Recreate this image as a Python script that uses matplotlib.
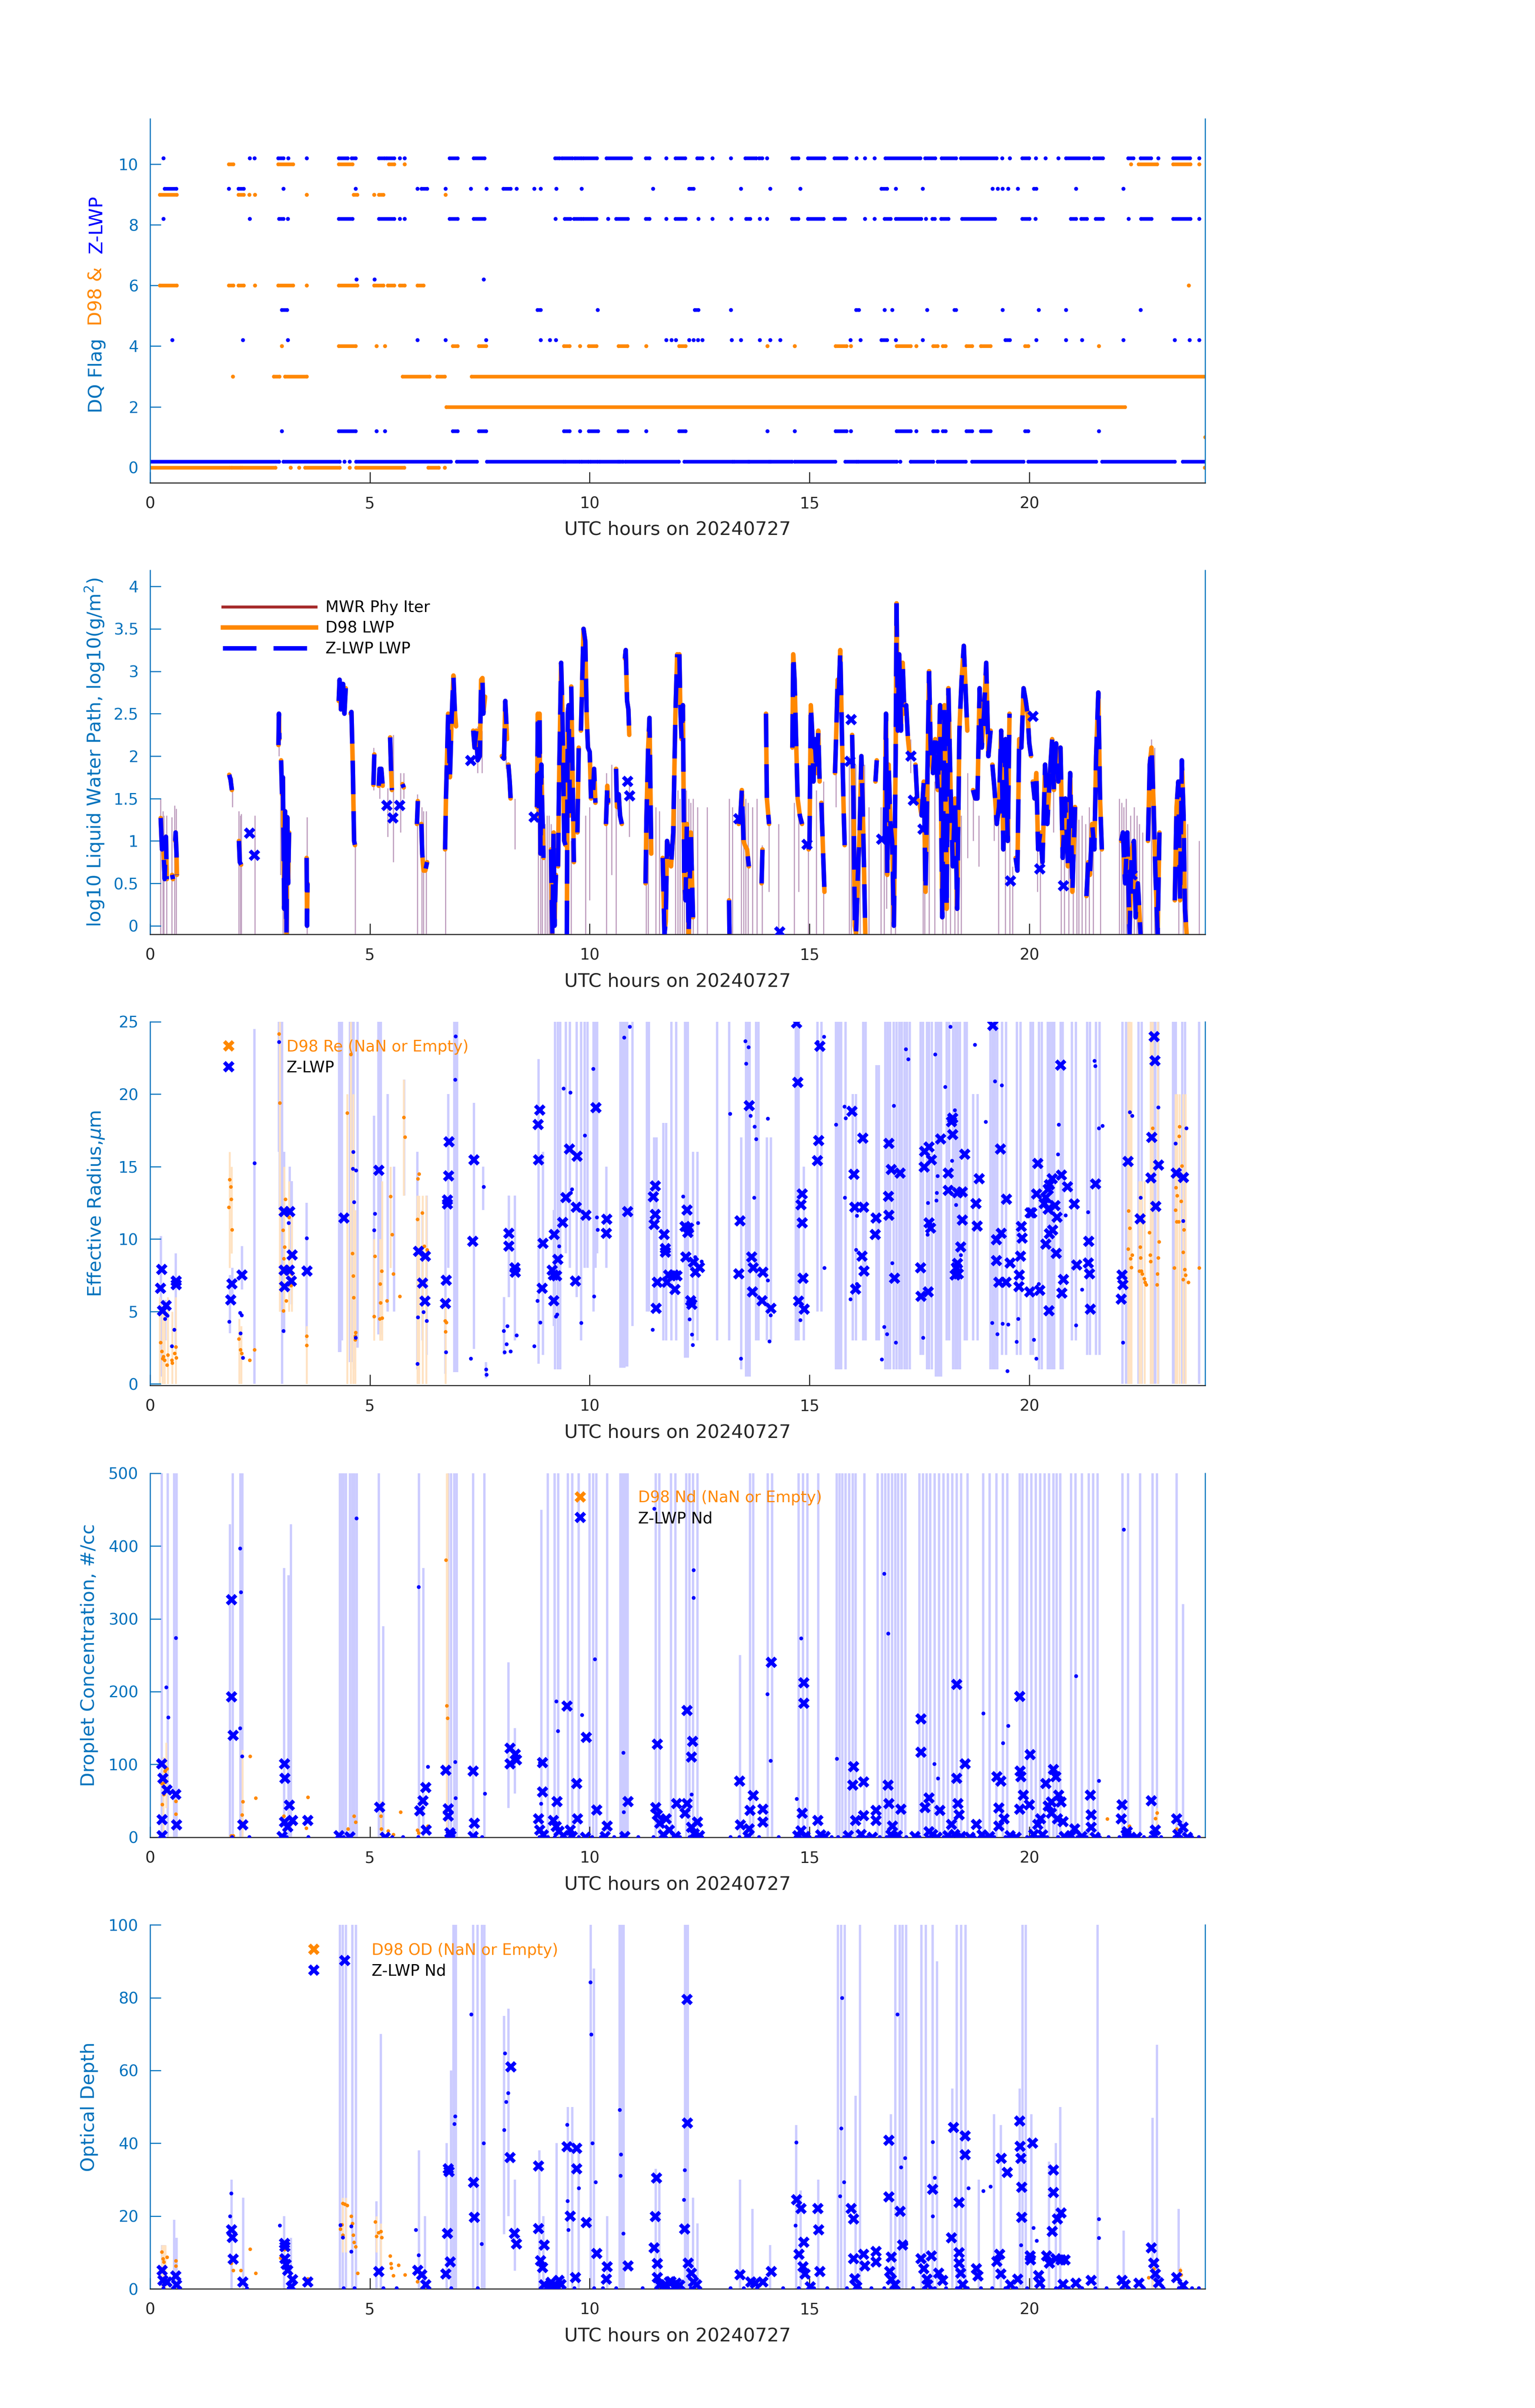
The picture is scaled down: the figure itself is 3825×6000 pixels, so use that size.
import matplotlib
matplotlib.use('Agg')
import matplotlib.pyplot as plt
from matplotlib.lines import Line2D
from matplotlib.ticker import FormatStrFormatter
import numpy as np

plt.rcParams['font.family'] = ['DejaVu Sans']
plt.rcParams['mathtext.fontset'] = 'dejavusans'

# ---------------------------------------------------------------- colours
BLUE = '#0000FF'
ORANGE = '#FF8800'
AXBLUE = '#0072BD'
DARK = '#262626'
MAUVE = '#C0A0C0'
MWRRED = '#A52A2A'
BAND_B = '#CCCCFF'
BAND_O = '#FFE2C2'

XLABEL = 'UTC hours on 20240727'
XTICKS = [0, 5, 10, 15, 20]

# ======================================================= PANEL 1 : DQ flags
# intervals (start_hour, end_hour) where each flag value is set
zlwp_flag10 = [(0.30, 0.30), (2.26, 2.26), (2.37, 2.37), (2.91, 3.03), (3.14, 3.14), (3.56, 3.56),
               (4.29, 4.49), (4.58, 4.67), (5.20, 5.33), (5.38, 5.55), (5.68, 5.68), (5.79, 5.79),
               (6.81, 6.99), (7.36, 7.60), (9.21, 9.31), (9.37, 9.60), (9.66, 9.80), (9.85, 10.16),
               (10.38, 10.94), (11.27, 11.36), (11.74, 11.74), (11.95, 12.17), (12.44, 12.56),
               (12.79, 12.79), (13.21, 13.21), (13.54, 13.78), (13.85, 13.92), (14.03, 14.03),
               (14.61, 14.74), (14.96, 15.34), (15.56, 15.84), (16.07, 16.07), (16.26, 16.26),
               (16.48, 16.48), (16.72, 17.52), (17.63, 17.86), (18.00, 18.33), (18.44, 19.25),
               (19.38, 19.38), (19.55, 19.55), (19.84, 19.99), (20.15, 20.15), (20.37, 20.37),
               (20.66, 20.66), (20.83, 21.35), (21.47, 21.67), (22.25, 22.37), (22.53, 22.77),
               (22.93, 22.93), (23.27, 23.65), (23.86, 23.86)]
d98_flag10 = [(1.79, 1.89), (2.91, 3.25), (4.29, 4.60), (5.43, 5.55), (5.79, 5.79), (22.31, 22.31),
              (22.48, 22.90), (23.27, 23.66), (23.86, 23.86)]
zlwp_flag9 = [(0.33, 0.59), (1.79, 1.79), (2.01, 2.13), (3.03, 3.03), (4.67, 4.67), (6.08, 6.08),
              (6.17, 6.30), (6.72, 6.72), (7.29, 7.29), (7.65, 7.65), (8.03, 8.20), (8.33, 8.33),
              (8.74, 8.74), (8.88, 8.88), (9.24, 9.24), (9.81, 9.81), (11.44, 11.44), (12.26, 12.36),
              (13.44, 13.44), (14.10, 14.10), (14.79, 14.79), (16.63, 16.76), (16.96, 16.96),
              (17.57, 17.57), (19.16, 19.16), (19.28, 19.28), (19.39, 19.39), (19.52, 19.52),
              (19.74, 19.74), (20.10, 20.16), (21.06, 21.06), (22.14, 22.14)]
d98_flag9 = [(0.22, 0.60), (2.01, 2.13), (2.25, 2.25), (2.38, 2.38), (3.56, 3.56), (4.63, 4.71),
             (5.09, 5.09), (5.20, 5.30), (6.72, 6.72)]
zlwp_flag8 = [(0.30, 0.30), (2.26, 2.26), (2.93, 3.03), (3.13, 3.13), (4.29, 4.60), (5.20, 5.55),
              (5.68, 5.68), (5.79, 5.79), (6.81, 6.99), (7.36, 7.60), (9.22, 9.22), (9.43, 9.56),
              (9.64, 9.80), (9.85, 10.15), (10.42, 10.42), (10.60, 10.86), (11.27, 11.36),
              (11.74, 11.74), (11.95, 12.18), (12.47, 12.47), (12.79, 12.79), (13.22, 13.22),
              (13.56, 13.65), (13.87, 13.87), (14.03, 14.03), (14.60, 14.74), (14.96, 15.32),
              (15.56, 15.80), (16.26, 16.26), (16.48, 16.48), (16.71, 16.84), (16.96, 17.54),
              (17.65, 17.65), (17.79, 17.85), (17.99, 18.16), (18.47, 19.22), (19.84, 20.00),
              (20.14, 20.14), (20.94, 21.06), (21.18, 21.31), (21.51, 21.67), (22.26, 22.26),
              (22.54, 22.78), (23.27, 23.66), (23.86, 23.86)]
zlwp_flag6 = [(4.69, 4.69), (5.10, 5.10), (7.59, 7.59)]
d98_flag6 = [(0.22, 0.60), (1.79, 1.89), (2.01, 2.13), (2.38, 2.38), (2.91, 3.25), (3.56, 3.56),
             (4.29, 4.71), (5.09, 5.30), (5.40, 5.55), (5.68, 5.79), (6.08, 6.22), (23.63, 23.63)]
zlwp_flag5 = [(2.99, 3.11), (8.81, 8.88), (10.18, 10.18), (12.39, 12.47), (13.21, 13.21),
              (16.06, 16.12), (16.71, 16.71), (16.88, 16.88), (17.67, 17.67), (18.29, 18.33),
              (19.39, 19.39), (20.21, 20.21), (20.83, 20.83), (22.53, 22.53)]
zlwp_flag4 = [(0.50, 0.50), (2.11, 2.11), (3.13, 3.13), (6.08, 6.08), (6.72, 6.72), (7.64, 7.64),
              (8.88, 8.88), (9.09, 9.09), (9.23, 9.23), (11.74, 11.74), (11.86, 11.86),
              (11.96, 11.96), (12.26, 12.26), (12.36, 12.36), (12.46, 12.46), (12.56, 12.56),
              (13.23, 13.23), (13.44, 13.44), (13.87, 13.87), (14.10, 14.10), (14.33, 14.33),
              (15.93, 15.93), (16.16, 16.16), (16.63, 16.76), (16.96, 16.96), (17.57, 17.57),
              (19.45, 19.55), (20.16, 20.16), (20.83, 20.83), (21.20, 21.20), (22.14, 22.14),
              (23.31, 23.31), (23.64, 23.64), (23.86, 23.86)]
d98_flag4 = [(2.99, 2.99), (4.29, 4.67), (5.15, 5.15), (5.34, 5.34), (6.88, 6.99), (7.48, 7.64),
             (9.41, 9.54), (9.78, 9.78), (9.98, 10.15), (10.65, 10.85), (11.28, 11.28),
             (12.03, 12.18), (14.04, 14.04), (14.66, 14.66), (15.59, 15.84), (15.94, 15.94),
             (16.98, 17.30), (17.43, 17.43), (17.81, 17.91), (18.03, 18.09), (18.57, 18.70),
             (18.90, 19.12), (19.90, 19.97), (21.58, 21.58)]
d98_flag3 = [(1.88, 1.88), (2.81, 2.94), (3.07, 3.56), (5.74, 6.35), (6.53, 6.70), (7.31, 24.0)]
d98_flag2 = [(6.74, 22.17)]
zlwp_flag1 = [(2.99, 2.99), (4.29, 4.67), (5.15, 5.15), (5.34, 5.34), (6.88, 6.99), (7.48, 7.64),
              (9.41, 9.54), (9.78, 9.78), (9.98, 10.19), (10.65, 10.85), (11.28, 11.28),
              (12.03, 12.18), (14.04, 14.04), (14.66, 14.66), (15.59, 15.84), (15.94, 15.94),
              (16.98, 17.30), (17.43, 17.43), (17.81, 17.91), (18.03, 18.09), (18.57, 18.70),
              (18.90, 19.12), (19.90, 19.97), (21.58, 21.58)]
d98_flag1 = [(24.0, 24.0)]
zlwp_flag0 = [(0.0, 2.93), (3.03, 4.31), (4.42, 4.42), (4.54, 4.54), (4.68, 6.84), (6.97, 7.43),
              (7.66, 9.40), (9.44, 9.77), (9.81, 9.97), (10.01, 10.18), (10.22, 10.64),
              (10.68, 10.75), (10.81, 12.02), (12.15, 13.25), (13.28, 13.60), (13.63, 14.08),
              (14.11, 14.60), (14.66, 15.58), (15.81, 16.07), (16.10, 16.98), (17.06, 17.06),
              (17.30, 17.81), (17.91, 18.55), (18.70, 19.86), (19.97, 21.52), (21.65, 23.31),
              (23.49, 24.0)]
d98_flag0 = [(0.0, 1.81), (1.85, 2.05), (2.09, 2.85), (3.19, 3.19), (3.39, 3.39), (3.52, 4.31),
             (4.54, 4.54), (4.68, 5.78), (6.33, 6.56), (6.70, 6.70), (23.99, 23.99)]

# ======================================================= PANEL 2 : log10 LWP
# continuous retrieval pieces: (hours, log10 LWP); D98 and Z-LWP coincide
lwp_seg_t = [
    [0.24, 0.27, 0.30, 0.33, 0.36, 0.38], [0.50, 0.52], [0.57, 0.58, 0.60, 0.61],
    [1.80, 1.83, 1.86], [2.02, 2.04, 2.07], [2.92, 2.93, 2.94],
    [2.98, 3.00, 3.02, 3.05, 3.07, 3.10, 3.12, 3.14, 3.16], [3.56, 3.57, 3.58],
    [4.29, 4.31, 4.34, 4.36, 4.39, 4.42, 4.45], [4.56, 4.58, 4.61, 4.64, 4.66],
    [5.08, 5.10], [5.20, 5.22, 5.26, 5.29], [5.46, 5.48, 5.50], [5.74, 5.77], [6.07, 6.09],
    [6.17, 6.19, 6.22, 6.26, 6.30], [6.71, 6.73, 6.78, 6.82, 6.86, 6.90, 6.93, 6.96],
    [7.35, 7.38, 7.42, 7.45, 7.50, 7.53, 7.56, 7.58, 7.62], [8.00, 8.05, 8.08, 8.12],
    [8.15, 8.18, 8.20], [8.80, 8.82, 8.84, 8.86, 8.88, 8.90, 8.92, 8.95],
    [9.12, 9.15, 9.18, 9.20, 9.23], [9.28, 9.30, 9.33, 9.35, 9.38, 9.42, 9.45],
    [9.48, 9.50, 9.52, 9.55], [9.58, 9.61, 9.64], [9.72, 9.75],
    [9.80, 9.83, 9.86, 9.90, 9.93, 9.96, 10.00, 10.03], [10.08, 10.10, 10.13],
    [10.37, 10.40, 10.42], [10.60, 10.62, 10.66, 10.69, 10.73],
    [10.80, 10.82, 10.85, 10.88, 10.90], [11.27, 11.29, 11.33, 11.36, 11.40],
    [11.66, 11.70, 11.73, 11.76, 11.80, 11.85, 11.90, 11.95, 11.99],
    [12.04, 12.06, 12.09, 12.12, 12.15, 12.18, 12.21, 12.25, 12.30, 12.35],
    [13.17, 13.18], [13.39, 13.43, 13.46, 13.50, 13.53, 13.58, 13.62], [13.91, 13.93],
    [14.01, 14.03, 14.08], [14.61, 14.63, 14.66, 14.70, 14.73, 14.78, 14.83],
    [14.98, 15.00, 15.03, 15.06, 15.09, 15.12, 15.16, 15.20, 15.23], [15.27, 15.34],
    [15.58, 15.61, 15.64, 15.67, 15.70, 15.74, 15.78, 15.80],
    [15.97, 16.00, 16.03, 16.06, 16.10, 16.14, 16.18, 16.22, 16.27], [16.50, 16.53],
    [16.71, 16.74, 16.77, 16.80, 16.84, 16.88, 16.92, 16.96, 16.98],
    [16.98, 17.01, 17.04, 17.08, 17.12, 17.16, 17.20, 17.24, 17.28],
    [17.41, 17.45, 17.50, 17.55, 17.60, 17.64, 17.68, 17.72],
    [17.72, 17.76, 17.81, 17.86, 17.92, 17.97, 18.02, 18.07, 18.12, 18.16],
    [18.16, 18.21, 18.26, 18.31, 18.36, 18.41, 18.46, 18.51, 18.55, 18.59],
    [18.72, 18.77, 18.82, 18.87, 18.92, 18.97, 19.02, 19.07, 19.12],
    [19.16, 19.21, 19.26, 19.31, 19.36, 19.41, 19.46, 19.51, 19.55],
    [19.69, 19.73, 19.77, 19.82, 19.87, 19.92, 19.96, 20.00, 20.04],
    [20.08, 20.12, 20.16, 20.20, 20.25, 20.30, 20.36, 20.41, 20.47],
    [20.47, 20.52, 20.56, 20.61, 20.66, 20.71, 20.76, 20.82, 20.88, 20.93, 20.98, 21.04],
    [21.30, 21.34, 21.38, 21.43, 21.48, 21.52, 21.57, 21.61, 21.65],
    [22.09, 22.13, 22.18, 22.23, 22.28, 22.33, 22.38, 22.42, 22.47, 22.53],
    [22.70, 22.74, 22.78, 22.83, 22.87, 22.92, 22.96],
    [23.31, 23.35, 23.39, 23.43, 23.47, 23.51, 23.54, 23.58],
]
lwp_seg_v = [
    [1.27, 0.90, 0.95, 0.55, 1.05, 0.55], [0.60, 0.55], [1.00, 1.10, 0.85, 0.60],
    [1.78, 1.72, 1.60], [1.00, 0.75, 0.72], [2.13, 2.50, 2.20],
    [1.95, 1.55, 1.75, 0.20, 1.35, -0.10, 1.28, 0.50, 1.10], [0.80, 0.00, 0.50],
    [2.65, 2.90, 2.55, 2.85, 2.85, 2.50, 2.80], [2.50, 2.52, 1.90, 1.00, 0.95],
    [1.66, 2.02], [1.65, 1.85, 1.85, 1.65], [2.22, 1.85, 1.60], [1.67, 1.63], [1.20, 1.47],
    [1.20, 0.85, 0.65, 0.65, 0.75], [0.90, 1.50, 2.50, 1.75, 2.45, 2.95, 2.55, 2.35],
    [2.30, 2.10, 2.30, 1.95, 2.00, 2.90, 2.92, 2.50, 2.70], [2.00, 1.97, 2.65, 2.20],
    [1.90, 1.70, 1.50], [1.40, 2.50, 1.30, 2.50, 0.85, 1.90, 1.40, 0.80],
    [0.90, -0.10, 1.10, 0.00, 0.60], [0.70, 1.60, 2.50, 3.10, 2.50, 1.00, 0.95],
    [-0.10, 2.50, 2.60, 1.30], [2.82, 1.80, 0.75], [1.10, 2.10],
    [2.30, 2.90, 3.50, 3.35, 2.50, 2.10, 2.05, 1.50], [1.60, 1.85, 1.45],
    [1.20, 1.65, 1.45], [1.85, 1.40, 1.55, 1.30, 1.20],
    [3.15, 3.25, 2.65, 2.55, 2.25], [0.50, 1.25, 2.10, 2.45, 0.85],
    [0.80, -0.10, 0.05, 1.00, 0.90, 0.70, 1.10, 2.50, 3.20],
    [3.20, 2.60, 2.20, 2.60, 0.60, 0.30, 1.20, -0.10, 1.10, 0.10],
    [0.30, -0.10], [1.20, 1.30, 1.60, 1.00, 0.95, 0.90, 0.70], [0.50, 0.90],
    [2.50, 1.50, 1.20], [2.10, 3.20, 2.90, 2.10, 1.50, 1.30, 1.20],
    [0.90, 1.00, 2.60, 2.30, 1.70, 2.20, 1.80, 2.30, 1.70], [1.45, 0.40],
    [1.80, 2.30, 2.90, 2.80, 3.25, 2.20, 1.30, 0.95],
    [2.25, 1.50, 0.00, -0.10, 0.60, 1.10, 2.00, 1.20, -0.10], [1.70, 1.95],
    [1.00, 2.50, 0.60, 1.90, 1.20, 1.00, 0.00, 2.00, 3.80],
    [3.80, 2.30, 3.20, 2.30, 3.10, 2.50, 2.60, 2.20, 2.00],
    [1.90, 1.50, 1.45, 1.30, 1.70, 0.40, 1.70, 3.00],
    [3.00, 2.00, 1.80, 2.20, 1.60, 2.60, 0.10, 2.60, 0.20, 2.80],
    [2.80, 1.60, 0.70, 1.50, 0.20, 2.30, 2.90, 3.30, 2.80, 2.30],
    [1.60, 1.50, 1.50, 2.80, 2.10, 2.50, 3.10, 2.00, 2.30],
    [1.90, 1.60, 1.20, 1.40, 2.30, 0.90, 2.20, 1.00, 2.50],
    [0.80, 0.65, 2.20, 2.10, 2.80, 2.65, 2.50, 2.15, 2.00],
    [1.70, 1.50, 1.80, 0.90, 1.10, 0.75, 1.90, 1.20, 1.80],
    [1.80, 2.20, 1.60, 2.15, 1.70, 2.10, 0.80, 1.50, 0.70, 1.80, 0.40, 1.40],
    [0.35, 0.75, 0.60, 1.20, 0.90, 2.00, 2.75, 1.50, 0.90],
    [1.00, 1.10, 0.50, 1.10, -0.10, 0.90, 1.00, 0.10, 0.50, -0.10],
    [1.00, 1.90, 2.10, 1.40, 0.60, -0.10, 1.10],
    [0.30, 1.40, 1.70, 0.30, 1.95, 1.30, 0.20, -0.10],
]
# isolated Z-LWP LWP samples (hour, log10 LWP)
lwp_x = [(2.26, 1.09), (2.37, 0.83), (5.39, 1.42), (5.52, 1.27), (5.68, 1.42), (7.29, 1.95),
         (8.74, 1.28), (10.86, 1.70), (10.91, 1.53), (13.39, 1.26), (14.32, -0.07), (14.94, 0.96),
         (15.95, 2.43), (15.92, 1.94), (16.64, 1.02), (17.31, 2.00), (17.36, 1.48), (17.58, 1.14),
         (19.57, 0.53), (20.08, 2.47), (20.24, 0.67), (20.78, 0.47), (22.34, 0.60)]
# MWR physical-iterative LWP excursions (hour, low, high)
mwr_lines = [(0.24, -0.2, 1.5), (0.29, -0.2, 1.35), (0.31, -0.2, 1.3), (0.37, -0.2, 1.3),
             (0.49, -0.2, 1.28), (0.56, -0.2, 1.42), (0.59, -0.2, 1.38), (1.87, 1.4, 1.75),
             (2.02, -0.2, 1.35), (2.05, -0.2, 1.3), (2.07, -0.2, 1.32), (2.38, -0.2, 1.3),
             (2.93, 2.0, 2.5), (2.97, 0.6, 1.95), (3.02, -0.2, 1.6), (3.10, -0.2, 1.3),
             (3.15, -0.2, 1.2), (3.57, -0.2, 1.28), (4.66, -0.2, 0.95), (5.08, 1.6, 2.1),
             (5.22, 1.5, 1.75), (5.40, 1.05, 1.62), (5.53, 0.75, 2.25), (5.70, 1.1, 1.8),
             (5.77, 1.5, 1.8), (6.08, -0.2, 1.55), (6.18, -0.2, 1.4), (6.22, -0.2, 1.35),
             (6.28, -0.2, 1.35), (6.72, -0.2, 1.1), (7.45, 1.8, 2.35), (7.55, 1.8, 2.3),
             (8.05, 1.95, 2.1), (8.10, 1.85, 2.0), (8.30, 0.9, 1.5), (8.83, -0.2, 2.4),
             (8.88, -0.2, 1.4), (8.92, -0.2, 1.4), (8.98, -0.2, 1.2), (9.03, -0.2, 1.3),
             (9.07, -0.2, 1.3), (9.12, -0.2, 1.2), (9.17, -0.2, 1.1), (9.45, -0.2, 0.95),
             (9.58, -0.2, 1.0), (9.90, -0.2, 1.3), (10.00, 0.3, 1.4), (10.38, -0.2, 1.8),
             (10.50, 0.6, 1.9), (10.60, -0.2, 1.5), (10.90, 1.05, 1.7), (11.28, -0.2, 1.7),
             (11.33, -0.2, 1.5), (11.50, -0.2, 1.4), (11.58, -0.2, 1.35), (11.95, -0.2, 1.5),
             (12.00, -0.2, 1.6), (12.05, -0.2, 1.5), (12.10, -0.2, 1.55), (12.15, -0.2, 1.5),
             (12.20, -0.2, 1.6), (12.25, -0.2, 1.5), (12.30, -0.2, 1.45), (12.35, -0.2, 1.5),
             (12.45, -0.2, 1.4), (12.67, -0.2, 1.4), (13.17, -0.2, 1.5), (13.25, -0.2, 1.4),
             (13.45, -0.2, 1.45), (13.50, -0.2, 1.55), (13.55, -0.2, 1.5), (13.60, -0.2, 1.45),
             (13.70, -0.2, 1.4), (13.80, -0.2, 1.5), (13.92, -0.2, 0.95), (14.08, 0.4, 1.2),
             (14.30, -0.2, 1.2), (14.65, -0.2, 1.45), (14.75, 0.4, 1.4), (14.97, -0.2, 1.9),
             (15.15, -0.2, 1.6), (15.32, -0.2, 1.7), (15.60, 1.4, 2.2), (15.90, -0.2, 2.0),
             (15.95, -0.2, 2.05), (16.05, -0.2, 1.9), (16.15, -0.2, 2.0), (16.25, -0.2, 1.9),
             (16.35, -0.2, 1.4), (16.62, -0.2, 1.4), (16.70, -0.2, 1.5), (16.75, 0.2, 1.5),
             (16.85, -0.2, 1.3), (16.95, -0.2, 1.3), (17.30, 1.8, 2.2), (17.58, -0.2, 1.5),
             (17.62, -0.2, 1.4), (17.72, -0.2, 1.8), (17.85, -0.2, 1.7), (18.03, -0.2, 1.9),
             (18.10, -0.2, 1.5), (18.20, -0.2, 1.7), (18.30, -0.2, 1.5), (18.38, -0.2, 1.9),
             (18.45, -0.2, 1.3), (18.60, 0.8, 1.8), (18.72, 1.0, 1.5), (18.85, 0.7, 1.3),
             (19.20, 1.0, 1.8), (19.30, -0.2, 1.5), (19.45, -0.2, 1.1), (19.55, -0.2, 1.4),
             (19.62, -0.2, 0.7), (19.75, 1.2, 1.45), (20.18, 0.4, 1.6), (20.25, -0.2, 1.0),
             (20.42, 1.2, 1.6), (20.55, 1.1, 1.9), (20.72, -0.2, 1.3), (20.80, -0.2, 1.5),
             (20.90, -0.2, 1.3), (21.00, -0.2, 1.2), (21.08, -0.2, 1.4), (21.12, -0.2, 1.25),
             (21.20, -0.2, 1.3), (21.28, -0.2, 1.2), (21.36, -0.2, 1.4), (21.45, -0.2, 1.3),
             (21.62, -0.2, 1.2), (22.05, -0.2, 1.5), (22.10, -0.2, 1.45), (22.15, -0.2, 1.4),
             (22.20, -0.2, 1.5), (22.30, -0.2, 1.3), (22.38, -0.2, 1.4), (22.45, -0.2, 1.3),
             (22.50, -0.2, 1.2), (22.58, -0.2, 1.1), (22.78, -0.2, 2.2), (22.85, -0.2, 2.1),
             (22.95, -0.2, 1.1), (23.40, -0.2, 1.5), (23.50, -0.2, 1.5), (23.60, -0.2, 1.2),
             (23.86, -0.2, 1.0)]

# ======================================================= PANEL 3 : Re (um)
re_x = [(0.26, 7.9), (0.24, 6.6), (0.28, 5.05), (0.36, 5.4), (0.59, 7.1), (0.59, 6.85), (1.83, 5.8),
        (1.86, 6.9), (2.09, 7.5), (3.05, 11.9), (3.18, 11.9), (3.05, 7.85), (3.17, 7.85), (3.06, 6.7),
        (3.21, 7.1), (3.23, 8.9), (3.57, 7.8), (4.41, 11.45), (5.20, 14.75), (6.11, 9.15), (6.26, 8.8),
        (6.20, 6.95), (6.25, 5.7), (6.72, 5.55), (6.74, 7.15), (6.80, 16.7), (6.79, 14.35),
        (6.76, 12.7), (6.76, 12.4), (7.37, 15.45), (7.34, 9.85), (8.16, 10.4), (8.16, 9.5),
        (8.30, 8.0), (8.31, 7.7), (8.83, 17.9), (8.86, 18.9), (8.84, 15.45), (8.94, 9.7),
        (8.92, 6.6), (9.19, 10.3), (9.27, 8.6), (9.15, 7.85), (9.17, 7.5), (9.25, 7.45),
        (9.18, 5.75), (9.38, 11.15), (9.46, 12.85), (9.54, 16.2), (9.71, 15.7), (9.69, 12.2),
        (9.68, 7.1), (9.91, 11.65), (10.14, 19.05), (10.39, 11.35), (10.38, 10.4), (10.86, 11.9),
        (11.49, 13.65), (11.45, 12.9), (11.49, 11.7), (11.47, 11.0), (11.69, 10.3), (11.72, 9.35),
        (11.72, 9.1), (11.54, 7.0), (11.51, 5.2), (11.76, 7.0), (11.79, 7.5), (11.91, 7.5),
        (11.99, 7.45), (11.94, 6.5), (12.21, 12.0), (12.17, 10.85), (12.25, 10.75), (12.23, 10.45),
        (12.19, 8.75), (12.36, 8.4), (12.41, 7.7), (12.50, 8.05), (12.30, 5.75), (12.32, 5.5),
        (13.42, 11.25), (13.39, 7.6), (13.63, 19.2), (13.68, 8.75), (13.72, 8.0), (13.70, 6.35),
        (13.94, 7.7), (13.92, 5.75), (14.12, 5.2), (14.71, 24.9), (14.73, 20.8), (14.83, 13.1),
        (14.81, 12.35), (14.83, 11.1), (14.85, 7.3), (14.75, 5.7), (14.88, 5.15), (15.24, 23.3),
        (15.21, 16.8), (15.18, 15.4), (15.97, 18.8), (16.01, 14.45), (16.03, 12.2), (16.23, 12.2),
        (16.21, 16.95), (16.19, 8.8), (16.24, 7.8), (16.05, 6.55), (16.51, 11.45), (16.50, 10.3),
        (16.81, 16.6), (16.86, 14.8), (17.06, 14.55), (16.80, 12.95), (16.81, 11.65), (16.93, 7.3),
        (17.53, 8.0), (17.54, 6.05), (17.70, 6.35), (17.62, 16.05), (17.72, 16.35), (17.77, 15.45),
        (17.61, 14.95), (17.72, 11.1), (17.76, 10.75), (17.98, 16.9), (18.16, 14.55),
        (18.16, 13.35), (18.23, 18.1), (18.26, 18.35), (18.26, 17.2), (18.37, 13.2), (18.53, 15.85),
        (18.48, 13.25), (18.48, 11.3), (18.44, 9.45), (18.37, 8.3), (18.34, 8.0), (18.39, 7.6),
        (18.31, 7.5), (18.79, 12.45), (18.81, 10.9), (18.86, 14.15), (19.17, 24.75), (19.34, 16.2),
        (19.48, 12.75), (19.25, 9.95), (19.36, 10.4), (19.25, 8.5), (19.56, 8.35), (19.31, 7.0),
        (19.47, 7.0), (19.82, 10.85), (19.84, 10.05), (19.80, 8.8), (19.77, 7.5), (19.76, 6.7),
        (20.02, 11.8), (20.06, 11.8), (20.01, 6.35), (20.24, 6.45), (20.19, 15.2), (20.17, 13.1),
        (20.38, 12.85), (20.43, 13.45), (20.46, 13.75), (20.52, 14.15), (20.34, 12.45),
        (20.43, 12.05), (20.59, 12.3), (20.63, 11.5), (20.53, 10.6), (20.46, 10.35), (20.38, 9.65),
        (20.61, 9.0), (20.45, 5.05), (20.71, 22.0), (20.73, 14.4), (20.87, 13.6), (20.78, 7.2),
        (20.74, 6.25), (21.02, 12.4), (21.08, 8.2), (21.51, 13.8), (21.35, 9.85), (21.34, 8.35),
        (21.37, 7.6), (21.39, 5.15), (22.25, 15.35), (22.11, 7.5), (22.13, 6.85), (22.09, 5.85),
        (22.52, 11.4), (22.84, 23.95), (22.86, 22.3), (22.79, 17.0), (22.77, 14.2), (22.94, 15.1),
        (22.88, 12.25), (23.34, 14.55), (23.51, 14.25)]
re_dot = [(2.93, 23.6), (2.37, 15.25), (3.56, 10.05), (3.15, 11.1), (3.03, 3.65), (1.80, 4.3),
          (2.04, 4.9), (2.08, 4.75), (2.05, 3.5), (2.11, 1.8), (0.34, 4.5), (0.39, 4.7), (0.49, 2.6),
          (0.55, 3.75), (4.62, 16.0), (4.61, 14.85), (4.68, 14.75), (4.64, 12.55), (4.67, 3.2),
          (5.11, 11.75), (5.09, 10.6), (6.08, 1.4), (6.09, 4.6), (6.22, 4.95), (6.29, 4.35),
          (6.73, 2.2), (6.95, 24.0), (6.94, 21.0), (7.29, 1.75), (7.59, 13.6), (7.64, 1.0),
          (7.65, 0.65), (8.04, 3.65), (8.06, 2.2), (8.11, 2.75), (8.12, 4.0), (8.20, 2.25),
          (8.33, 3.35), (8.74, 2.6), (8.81, 5.75), (8.87, 4.25), (9.23, 4.65), (9.26, 4.8),
          (9.30, 9.5), (9.40, 20.4), (9.56, 20.1), (9.57, 13.2), (9.59, 13.45), (9.80, 4.2),
          (9.89, 17.15), (10.08, 21.75), (10.10, 6.05), (10.16, 11.5), (10.18, 10.65),
          (10.78, 23.9), (10.91, 24.65), (11.43, 3.75), (12.12, 12.95), (12.46, 11.1),
          (12.40, 8.75), (12.54, 8.45), (12.27, 4.45), (12.32, 3.4), (12.34, 2.7), (13.19, 18.65),
          (13.54, 23.65), (13.61, 23.25), (13.56, 22.1), (13.66, 18.5), (13.75, 17.75),
          (13.78, 16.9), (13.74, 12.85), (14.05, 18.3), (14.05, 7.15), (14.11, 4.75), (14.09, 2.95),
          (13.44, 1.75), (14.79, 4.4), (15.18, 23.6), (15.33, 23.95), (15.34, 8.0), (15.60, 17.9),
          (15.79, 19.15), (15.82, 18.35), (15.80, 12.85), (16.08, 11.6), (16.06, 9.25),
          (16.08, 6.9), (15.93, 5.85), (16.70, 3.95), (16.76, 3.45), (16.64, 1.7), (16.92, 19.2),
          (17.19, 23.1), (17.24, 22.4), (16.88, 8.35), (16.96, 2.85), (17.86, 22.75), (18.08, 20.5),
          (17.91, 14.35), (17.69, 12.5), (17.89, 13.2), (17.88, 12.65), (17.68, 10.3), (17.58, 3.2),
          (18.20, 24.65), (18.30, 18.9), (18.24, 15.4), (18.33, 12.35), (18.44, 8.9), (18.76, 23.4),
          (19.01, 18.1), (19.22, 20.9), (19.37, 20.6), (19.15, 4.2), (19.27, 3.45), (19.39, 4.15),
          (19.52, 4.1), (19.50, 0.9), (19.75, 4.5), (19.71, 2.9), (20.10, 3.05), (20.16, 1.75),
          (20.21, 6.9), (20.67, 17.9), (20.65, 15.85), (20.82, 11.65), (21.06, 4.05), (21.20, 6.5),
          (21.33, 11.85), (21.48, 22.3), (21.50, 21.95), (21.58, 17.65), (21.66, 17.8),
          (22.28, 18.75), (22.34, 18.5), (22.53, 12.85), (22.93, 19.1), (22.13, 2.85),
          (23.32, 16.6), (23.57, 17.65), (23.50, 11.25)]
re_d98 = [(0.24, 2.85), (0.26, 2.25), (0.28, 1.75), (0.30, 1.9), (0.33, 1.65), (0.38, 1.3),
          (0.40, 2.0), (0.49, 1.65), (0.50, 1.45), (0.56, 2.1), (0.58, 2.55), (0.59, 1.8),
          (1.81, 14.1), (1.83, 13.6), (1.84, 12.75), (1.79, 12.2), (1.86, 10.65), (2.02, 3.1),
          (2.05, 2.35), (2.08, 2.1), (2.26, 1.65), (2.37, 2.35), (2.93, 24.15), (2.95, 19.4),
          (3.08, 12.75), (3.02, 10.6), (3.06, 9.45), (3.04, 8.65), (3.16, 11.5), (3.22, 7.6),
          (3.20, 6.8), (3.09, 5.75), (3.03, 5.05), (3.56, 3.3), (3.56, 2.65), (4.48, 18.7),
          (4.56, 22.75), (4.60, 9.0), (4.62, 7.45), (4.63, 5.95), (4.67, 3.55), (4.66, 3.3),
          (4.66, 3.05), (5.11, 8.8), (5.09, 4.65), (5.22, 4.5), (5.24, 5.6), (5.23, 6.9),
          (5.27, 7.8), (5.28, 4.55), (5.39, 5.75), (5.47, 12.95), (5.50, 10.3), (5.53, 7.6),
          (5.68, 6.05), (5.77, 18.4), (5.80, 17.05), (6.08, 11.35), (6.09, 14.15), (6.12, 14.5),
          (6.19, 11.8), (6.23, 9.5), (6.30, 9.25), (6.71, 4.35), (6.74, 4.25), (6.72, 3.6),
          (22.26, 11.95), (22.28, 10.75), (22.25, 9.3), (22.30, 8.65), (22.34, 8.9), (22.32, 8.05),
          (22.50, 7.8), (22.55, 7.8), (22.57, 7.6), (22.61, 7.25), (22.63, 7.0), (22.66, 6.85),
          (22.52, 9.45), (22.53, 8.7), (22.73, 10.45), (22.75, 8.9), (22.76, 8.45), (22.80, 17.65),
          (22.95, 9.8), (22.93, 8.7), (22.91, 7.6), (22.90, 6.85), (23.33, 13.55), (23.36, 13.0),
          (23.35, 11.2), (23.40, 11.2), (23.32, 12.0), (23.45, 12.6), (23.42, 17.75),
          (23.41, 17.1), (23.47, 15.05), (23.52, 10.65), (23.50, 9.1), (23.30, 8.0), (23.53, 7.9),
          (23.55, 7.5), (23.50, 7.2), (23.62, 7.0), (23.86, 8.0)]
# uncertainty ranges (hour, low, high)
re_err = [(0.25, 0.5, 10.2), (0.35, 3.0, 5.8), (0.58, 2.5, 9.0), (1.82, 3.5, 7.5), (1.87, 5.5, 8.0),
          (2.09, 6.5, 9.5), (2.37, 0, 24.5), (2.93, 16, 25), (2.95, 12, 25), (3.00, 0, 25),
          (3.05, 3.5, 16), (3.18, 9, 15), (3.22, 5.5, 14), (3.56, 3, 12.5), (4.30, 2.2, 25),
          (4.33, 2.2, 25), (4.36, 3, 25), (4.55, 1.5, 25), (4.58, 1.5, 25), (4.60, 1.5, 25),
          (4.63, 1.0, 25), (4.72, 2.5, 25), (5.09, 4.5, 18.5), (5.19, 3.4, 25), (5.22, 3.4, 25),
          (5.25, 3.4, 25), (5.40, 5, 20), (5.55, 5, 15), (5.78, 13, 21), (6.08, 1, 16),
          (6.20, 3, 12), (6.29, 2, 13), (6.72, 0.7, 13), (6.78, 8, 20), (6.92, 0.8, 25),
          (6.94, 0.8, 25), (6.96, 0.8, 25), (6.98, 0.8, 25), (7.37, 2.4, 19.4), (7.58, 12, 15),
          (7.64, 0.4, 1.5), (8.05, 2, 6), (8.16, 6, 13), (8.30, 3, 13), (8.84, 1.4, 22.4),
          (8.94, 2, 16), (9.18, 4, 12), (9.21, 1, 25), (9.27, 1, 25), (9.33, 1, 25), (9.46, 9, 25),
          (9.55, 8, 25), (9.70, 6, 25), (9.80, 3, 25), (9.89, 8, 25), (9.95, 8, 25), (10.09, 5, 25),
          (10.13, 8, 25), (10.17, 9, 25), (10.38, 8, 15), (10.70, 1.1, 25), (10.73, 1.1, 25),
          (10.76, 1.1, 25), (10.79, 1.1, 25), (10.82, 1.2, 25), (10.85, 1.2, 25), (10.97, 4, 25),
          (11.30, 5, 25), (11.35, 5, 25), (11.47, 5, 17), (11.52, 5, 17), (11.68, 3, 18),
          (11.74, 3, 18), (11.86, 3, 25), (11.97, 3, 25), (12.17, 1.8, 25), (12.20, 1.8, 25),
          (12.23, 1.8, 25), (12.35, 3, 16), (12.45, 3, 16), (12.90, 3, 25), (13.17, 3, 25),
          (13.45, 1, 17), (13.56, 0.5, 25), (13.60, 0.5, 25), (13.64, 0.5, 25), (13.78, 3, 25),
          (13.84, 3, 25), (14.03, 3, 17), (14.12, 3, 17), (14.69, 3, 25), (14.72, 3, 25),
          (14.75, 3, 25), (14.87, 3, 15), (15.18, 5, 25), (15.27, 5, 25), (15.60, 1, 25),
          (15.64, 1, 25), (15.68, 1, 25), (15.72, 1, 25), (15.82, 1, 25), (15.98, 3, 20),
          (16.06, 3, 20), (16.22, 3, 25), (16.28, 3, 25), (16.52, 3, 22), (16.58, 3, 22),
          (16.72, 1, 25), (16.78, 1, 25), (16.83, 1, 25), (16.92, 1, 25), (16.98, 1, 25),
          (17.04, 1, 25), (17.10, 1, 25), (17.16, 1, 25), (17.22, 1, 25), (17.28, 1, 25),
          (17.53, 2, 25), (17.58, 2, 25), (17.67, 1, 25), (17.72, 1, 25), (17.78, 1, 25),
          (17.87, 0.5, 25), (17.91, 0.5, 25), (17.95, 0.5, 25), (17.99, 0.5, 25), (18.12, 3, 25),
          (18.18, 3, 25), (18.27, 1, 25), (18.32, 1, 25), (18.37, 1, 25), (18.42, 1, 25),
          (18.53, 3, 25), (18.58, 3, 25), (18.72, 3, 20), (18.82, 3, 20), (19.12, 1, 25),
          (19.17, 1, 25), (19.22, 1, 25), (19.27, 1, 25), (19.38, 2, 25), (19.47, 2, 25),
          (19.72, 2, 25), (19.80, 2, 25), (20.03, 2, 25), (20.08, 2, 25), (20.22, 1, 25),
          (20.28, 1, 25), (20.42, 1, 25), (20.47, 1, 25), (20.52, 1, 25), (20.57, 1, 25),
          (20.71, 1, 25), (20.76, 1, 25), (20.97, 3, 25), (21.06, 3, 25), (21.32, 2, 25),
          (21.38, 2, 25), (21.52, 2, 25), (21.60, 2, 25), (22.12, 0, 25), (22.20, 0, 25),
          (22.27, 0, 25), (22.48, 0, 25), (22.56, 0, 25), (22.77, 0, 25), (22.82, 0, 25),
          (22.87, 0, 25), (22.93, 0, 25), (23.27, 0, 25), (23.30, 0, 25), (23.33, 0, 25),
          (23.48, 0, 25), (23.54, 0, 25), (23.86, 0, 25)]
re_d98_err = [(0.22, 0, 6), (0.28, 0, 5), (0.33, 0, 5), (0.40, 0, 6), (0.50, 0, 5), (0.58, 0, 6),
              (1.81, 8, 16), (1.85, 9, 15), (2.03, 0, 4.5), (2.07, 0, 4), (2.95, 5, 25),
              (3.05, 5, 15), (3.16, 5, 14), (3.22, 5, 12), (3.56, 0, 4), (4.48, 0, 20),
              (4.56, 0, 25), (4.62, 0, 20), (4.66, 0, 12), (5.09, 3, 10), (5.23, 3, 10),
              (5.28, 3, 14), (5.47, 8, 15), (5.77, 13, 21), (6.08, 0, 13), (6.12, 0, 13),
              (6.20, 0, 13), (6.28, 0, 13), (6.72, 0, 6), (22.25, 0, 25), (22.28, 0, 25),
              (22.32, 0, 25), (22.50, 0, 14), (22.55, 0, 14), (22.62, 0, 14), (22.76, 0, 25),
              (22.80, 0, 25), (22.92, 0, 25), (23.32, 0, 20), (23.36, 0, 20), (23.42, 0, 20),
              (23.50, 0, 20), (23.55, 0, 20)]

# ======================================================= PANEL 4 : Nd (#/cc)
nd_x = [(0.26, 100.6), (0.29, 81), (0.38, 65), (0.27, 24), (0.58, 59), (0.60, 17), (1.85, 326),
        (1.85, 193), (1.89, 140), (2.11, 17), (3.06, 100.6), (3.07, 81), (3.17, 44), (3.06, 21),
        (3.13, 14), (3.24, 23), (3.59, 23), (5.22, 41), (6.13, 36), (6.21, 50), (6.27, 68),
        (6.28, 10), (6.73, 92), (6.78, 39), (6.78, 29), (6.82, 6), (7.35, 91), (7.38, 19),
        (8.19, 122), (8.19, 100.6), (8.31, 114), (8.33, 106), (8.93, 102.6), (8.84, 25),
        (8.86, 10), (8.93, 62), (9.17, 23), (9.26, 49), (9.24, 15), (9.30, 8), (9.48, 180),
        (9.70, 73.5), (9.72, 25), (9.56, 10), (9.92, 137), (10.16, 37.5), (10.40, 15.5),
        (10.87, 49), (11.54, 128), (11.50, 40.6), (11.54, 31), (11.59, 19), (11.74, 25),
        (11.81, 10), (11.98, 46), (12.21, 174), (12.21, 46), (12.17, 33), (12.31, 110),
        (12.34, 131.6), (12.31, 13.5), (12.45, 21), (13.41, 77), (13.43, 17), (13.72, 57),
        (13.65, 37), (13.63, 11.6), (13.94, 38.7), (13.94, 21), (14.13, 240), (14.87, 212),
        (14.87, 184), (14.83, 33), (14.81, 8.5), (15.19, 23), (15.98, 71.6), (16.00, 96.7),
        (16.23, 76), (16.05, 23), (16.23, 29.8), (16.51, 23), (16.51, 36.8), (16.79, 71.6),
        (16.81, 46), (16.89, 15.5), (17.08, 38.7), (17.54, 162.5), (17.54, 117), (17.63, 40.6),
        (17.72, 54), (17.97, 36.8), (17.72, 7.7), (18.35, 210), (18.35, 81), (18.38, 46),
        (18.54, 100.6), (18.40, 31), (18.23, 17.4), (18.80, 17.4), (19.26, 83), (19.35, 77),
        (19.31, 39.9), (19.43, 25), (19.31, 15.5), (19.78, 193.5), (19.79, 91), (19.81, 83),
        (19.86, 58), (19.78, 38.7), (20.02, 113.4), (20.00, 44.5), (20.19, 17.4), (20.26, 25),
        (20.38, 73.5), (20.43, 42.6), (20.50, 48.4), (20.55, 92.9), (20.60, 83), (20.67, 58),
        (20.72, 48.4), (20.64, 25), (20.77, 21.3), (20.50, 32.9), (21.03, 11.6), (21.39, 58),
        (21.41, 31), (21.41, 13.5), (22.11, 44.5), (22.09, 25), (22.23, 7.7), (22.78, 50.3),
        (22.87, 9.7), (23.35, 25), (23.50, 13.5), (23.38, 3.9),
        (0.27, 2.0), (3.00, 1.0), (4.30, 2.0), (4.55, 0.5), (5.35, 0.0), (6.85, 2.0), (7.35, 1.0),
        (8.95, 3.0), (9.40, 2.0), (9.60, 1.0), (9.90, 0.0), (10.35, 1.0), (10.80, 1.0),
        (11.68, 3.0), (11.95, 1.0), (12.38, 5.0), (12.50, 2.0), (13.60, 1.0), (14.73, 2.0),
        (14.90, 1.0), (15.25, 3.0), (15.35, 1.0), (15.88, 2.0), (16.18, 4.0), (16.43, 0.0),
        (16.85, 3.0), (16.92, 0.0), (17.00, 2.0), (17.40, 1.0), (17.80, 4.0), (17.90, 0.0),
        (18.15, 2.0), (18.30, 4.0), (18.45, 1.0), (18.65, 0.0), (18.92, 3.0), (19.10, 1.0),
        (19.56, 2.0), (19.70, 0.0), (20.10, 4.0), (20.30, 3.0), (20.80, 1.0), (20.95, 2.0),
        (21.20, 1.0), (21.50, 0.0), (22.20, 3.0), (22.45, 0.0), (22.85, 2.0), (23.60, 0.0)]
nd_dot = [(0.36, 206), (0.41, 164.5), (0.58, 274), (2.04, 397), (2.06, 337), (2.04, 150),
          (2.09, 111.5), (4.69, 438), (6.11, 344), (6.32, 96.7), (6.94, 103.7), (6.95, 54),
          (7.61, 60), (8.86, 102.6), (8.89, 46), (9.24, 187), (9.27, 146), (9.82, 168),
          (10.11, 244.6), (10.76, 116), (10.77, 34.8), (11.47, 451.6), (12.36, 367), (12.36, 329),
          (12.31, 58.8), (14.04, 196.6), (14.11, 105), (14.81, 273.6), (14.71, 53), (15.62, 108),
          (16.70, 362), (16.79, 279.8), (17.84, 101), (17.92, 81), (18.95, 170), (19.52, 153),
          (19.40, 129.6), (21.06, 221.7), (21.58, 77.4), (22.15, 422.6),
          (0.28, 0.5), (1.86, 0.5), (2.25, 0.5), (3.10, 0.5), (3.60, 0.5), (4.32, 0.5),
          (4.40, 0.5), (4.50, 0.5), (5.30, 0.5), (5.50, 0.5), (5.75, 0.5), (6.10, 0.5),
          (6.80, 0.5), (7.40, 0.5), (7.55, 0.5), (8.85, 0.5), (9.05, 0.5), (9.20, 0.5),
          (9.55, 0.5), (9.75, 0.5), (10.05, 0.5), (10.25, 0.5), (10.55, 0.5), (10.72, 0.5),
          (11.10, 0.5), (11.45, 0.5), (11.65, 0.5), (11.90, 0.5), (12.05, 0.5), (12.27, 0.5),
          (12.40, 0.5), (12.55, 0.5), (13.20, 0.5), (13.40, 0.5), (13.55, 0.5), (13.85, 0.5),
          (14.30, 0.5), (14.68, 0.5), (14.78, 0.5), (15.00, 0.5), (15.15, 0.5), (15.50, 0.5),
          (15.65, 0.5), (15.78, 0.5), (16.10, 0.5), (16.30, 0.5), (16.60, 0.5), (16.75, 0.5),
          (17.05, 0.5), (17.20, 0.5), (17.50, 0.5), (17.68, 0.5), (18.05, 0.5), (18.20, 0.5),
          (18.50, 0.5), (18.75, 0.5), (19.00, 0.5), (19.20, 0.5), (19.45, 0.5), (19.65, 0.5),
          (19.95, 0.5), (20.20, 0.5), (20.40, 0.5), (20.65, 0.5), (20.90, 0.5), (21.10, 0.5),
          (21.30, 0.5), (21.60, 0.5), (21.80, 0.5), (22.05, 0.5), (22.35, 0.5), (22.60, 0.5),
          (22.75, 0.5), (23.00, 0.5), (23.30, 0.5), (23.45, 0.5), (23.70, 0.5), (23.85, 0.5)]
nd_d98 = [(0.26, 73.5), (0.33, 75.5), (0.38, 94), (0.34, 91), (0.27, 45), (0.31, 58.8),
          (0.58, 31.7), (0.58, 49.5), (1.84, 2), (1.89, 2), (2.11, 49), (2.09, 31), (2.06, 21),
          (2.27, 111.5), (2.40, 54), (3.04, 29), (3.07, 10.4), (3.59, 55), (3.55, 12.4),
          (4.64, 29), (4.67, 21), (4.50, 11.6), (5.25, 29), (5.26, 11.6), (5.41, 8.5), (5.53, 3.9),
          (5.70, 34.8), (6.08, 9.7), (6.11, 5.8), (6.32, 15.5), (6.73, 381), (6.75, 180.7),
          (6.76, 163.7), (21.77, 25), (22.27, 15.5), (22.90, 33.7), (22.87, 26), (23.35, 11.6)]
nd_err = [(0.26, 0, 500), (0.40, 0, 500), (0.55, 0, 500), (0.60, 0, 500), (1.82, 0, 430),
          (1.88, 0, 500), (2.05, 0, 500), (2.10, 0, 500), (3.05, 0, 370), (3.15, 0, 360),
          (3.20, 0, 430), (4.32, 0, 500), (4.36, 0, 500), (4.40, 0, 500), (4.45, 0, 500),
          (4.55, 0, 500), (4.60, 0, 500), (4.65, 0, 500), (4.70, 0, 500), (5.20, 0, 500),
          (5.30, 0, 290), (6.12, 0, 500), (6.22, 0, 370), (6.78, 0, 500), (6.85, 0, 500),
          (6.92, 0, 500), (6.97, 0, 500), (7.35, 0, 500), (7.60, 0, 500), (8.15, 40, 240),
          (8.30, 60, 150), (8.90, 0, 450), (9.05, 0, 500), (9.20, 0, 500), (9.28, 0, 500),
          (9.50, 0, 500), (9.60, 0, 500), (9.75, 0, 500), (10.00, 0, 500), (10.08, 0, 500),
          (10.15, 0, 500), (10.40, 0, 500), (10.70, 0, 500), (10.74, 0, 500), (10.78, 0, 500),
          (10.82, 0, 500), (10.86, 0, 500), (11.50, 0, 500), (11.58, 0, 500), (11.85, 0, 500),
          (11.95, 0, 500), (12.20, 0, 500), (12.27, 0, 500), (12.35, 0, 500), (12.45, 0, 500),
          (13.42, 0, 250), (13.65, 0, 500), (13.72, 0, 500), (14.05, 0, 500), (14.15, 0, 500),
          (14.75, 0, 500), (14.85, 0, 500), (14.95, 0, 500), (15.20, 0, 500), (15.62, 0, 500),
          (15.68, 0, 500), (15.75, 0, 500), (15.82, 0, 500), (15.90, 0, 500), (15.98, 0, 500),
          (16.05, 0, 500), (16.25, 0, 500), (16.55, 0, 500), (16.65, 0, 500), (16.72, 0, 500),
          (16.80, 0, 500), (16.88, 0, 500), (16.95, 0, 500), (17.02, 0, 500), (17.10, 0, 500),
          (17.18, 0, 500), (17.50, 0, 500), (17.58, 0, 500), (17.66, 0, 500), (17.75, 0, 500),
          (17.85, 0, 500), (17.95, 0, 500), (18.05, 0, 500), (18.15, 0, 500), (18.25, 0, 500),
          (18.35, 0, 500), (18.45, 0, 500), (18.60, 0, 500), (18.95, 0, 500), (19.10, 0, 500),
          (19.25, 0, 500), (19.40, 0, 500), (19.50, 0, 500), (19.78, 0, 500), (19.85, 0, 500),
          (19.95, 0, 500), (20.05, 0, 500), (20.15, 0, 500), (20.25, 0, 500), (20.35, 0, 500),
          (20.45, 0, 500), (20.55, 0, 500), (20.62, 0, 500), (20.70, 0, 500), (20.95, 0, 500),
          (21.05, 0, 500), (21.20, 0, 500), (21.35, 0, 500), (21.45, 0, 500), (21.55, 0, 500),
          (22.12, 0, 500), (22.25, 0, 500), (22.52, 0, 500), (22.80, 0, 500), (22.90, 0, 500),
          (23.35, 0, 500), (23.50, 0, 320)]
nd_d98_err = [(0.30, 0, 110), (0.36, 40, 130), (2.10, 0, 120), (5.25, 0, 50), (6.75, 0, 500),
              (6.76, 100, 500), (22.90, 0, 40)]

# ======================================================= PANEL 5 : optical depth
od_x = [(0.27, 5.1), (0.29, 2.3), (0.38, 1.9), (0.58, 3.5), (0.60, 1.1), (1.85, 16.2), (1.87, 14.1),
        (1.89, 8.2), (2.11, 1.9), (3.06, 12.5), (3.07, 11.6), (3.07, 8.3), (3.09, 6.7), (3.13, 5.1),
        (3.24, 2.5), (3.21, 0.6), (3.59, 1.9), (4.43, 90.2), (5.20, 4.7), (6.09, 5.1), (6.18, 3.9),
        (6.27, 1.1), (6.78, 33.0), (6.80, 32.2), (6.76, 15.2), (6.73, 4.1), (6.83, 7.4),
        (7.36, 29.2), (7.38, 19.6), (8.21, 61.0), (8.19, 36.1), (8.29, 15.2), (8.33, 12.4),
        (8.84, 33.8), (8.84, 16.6), (8.88, 7.7), (8.93, 5.9), (8.96, 12.0), (8.96, 1.1),
        (9.22, 1.1), (9.30, 2.3), (9.05, 0.5), (9.12, 1.8), (9.25, 0.3), (9.35, 1.2),
        (9.48, 39.0), (9.56, 20.0), (9.70, 38.6), (9.70, 33.0), (9.68, 3.1), (9.92, 18.2),
        (10.16, 9.7), (10.40, 6.1), (10.38, 2.7), (10.87, 6.3), (11.52, 30.4), (11.49, 19.8),
        (11.47, 11.2), (11.54, 6.9), (11.54, 3.1), (11.59, 1.1), (11.71, 1.1), (11.81, 1.9),
        (11.97, 1.5), (11.75, 0.5), (11.85, 2.0), (11.92, 0.4), (12.05, 1.0), (12.16, 16.4),
        (12.21, 79.5), (12.22, 45.5), (12.24, 7.1), (12.31, 4.3), (12.36, 1.9), (12.43, 1.1),
        (13.42, 3.9), (13.67, 1.9), (13.77, 1.5), (13.94, 1.9), (14.13, 4.7), (14.71, 24.5),
        (14.81, 22.1), (14.76, 9.5), (14.87, 12.8), (14.85, 6.1), (14.90, 4.1), (15.02, 0.6),
        (15.19, 22.1), (15.21, 16.2), (15.24, 4.7), (15.95, 22.1), (16.00, 19.2), (16.00, 8.3),
        (16.03, 2.8), (16.08, 0.6), (16.23, 9.5), (16.26, 6.3), (16.51, 10.3), (16.51, 7.4),
        (16.81, 40.8), (16.81, 25.3), (16.86, 8.7), (16.82, 4.7), (16.86, 2.5), (16.94, 1.1),
        (17.06, 21.3), (17.12, 12.0), (17.54, 8.3), (17.60, 5.5), (17.67, 2.7), (17.69, 1.1),
        (17.77, 9.1), (17.80, 27.3), (17.94, 4.3), (18.03, 2.3), (18.23, 14.0), (18.28, 44.3),
        (18.40, 23.7), (18.40, 9.9), (18.40, 7.1), (18.44, 4.3), (18.54, 42.0), (18.54, 36.8),
        (18.49, 1.1), (18.80, 5.5), (18.83, 3.5), (19.26, 7.5), (19.33, 9.5), (19.36, 35.8),
        (19.50, 32.0), (19.35, 4.1), (19.57, 1.1), (19.78, 46.1), (19.79, 39.2), (19.81, 35.8),
        (19.83, 27.9), (19.83, 19.6), (19.74, 2.7), (20.07, 40.0), (20.02, 9.1), (20.03, 7.9),
        (20.21, 3.6), (20.24, 1.5), (20.39, 9.1), (20.46, 7.1), (20.52, 15.8), (20.55, 32.6),
        (20.55, 26.5), (20.64, 19.2), (20.72, 20.9), (20.60, 8.3), (20.72, 7.9), (20.81, 7.9),
        (20.77, 1.2), (21.06, 1.5), (21.41, 2.3), (22.11, 2.3), (22.18, 1.1), (22.49, 1.5),
        (22.78, 11.2), (22.83, 7.1), (22.87, 4.1), (22.94, 1.7), (23.35, 3.1), (23.50, 0.9)]
od_dot = [(1.82, 20.0), (1.84, 26.3), (2.95, 17.4), (4.33, 17.5), (4.38, 14.1), (4.57, 17.2),
          (4.57, 10.3), (6.04, 16.2), (6.11, 9.3), (6.92, 45.3), (6.94, 47.4), (7.30, 75.4),
          (7.59, 40.0), (7.54, 12.4), (8.07, 64.7), (8.10, 51.4), (8.14, 53.8), (8.05, 43.7),
          (9.48, 45.1), (9.49, 24.1), (9.51, 16.2), (9.75, 27.7), (10.01, 84.3), (10.03, 69.9),
          (10.06, 40.0), (10.13, 29.3), (10.68, 49.2), (10.71, 36.9), (10.70, 31.1), (10.76, 15.2),
          (12.16, 32.7), (12.14, 24.5), (14.70, 40.3), (14.68, 17.4), (15.74, 80.0), (15.72, 44.1),
          (15.78, 29.3), (15.69, 25.5), (17.00, 75.4), (17.08, 33.4), (17.17, 36.0), (17.20, 12.4),
          (17.80, 40.4), (17.85, 30.6), (17.80, 20.0), (18.61, 27.7), (18.95, 26.9), (19.12, 28.1),
          (19.81, 12.0), (20.09, 16.8), (20.17, 13.2), (21.58, 19.2), (21.58, 14.0),
          (0.30, 0.2), (2.20, 0.2), (3.15, 0.2), (4.40, 0.2), (4.65, 0.2), (5.30, 0.2),
          (5.60, 0.2), (6.20, 0.2), (6.85, 0.2), (7.45, 0.2), (8.90, 0.2), (9.15, 0.2),
          (9.40, 0.2), (9.65, 0.2), (10.10, 0.2), (10.30, 0.2), (10.60, 0.2), (11.20, 0.2),
          (11.65, 0.2), (12.00, 0.2), (12.30, 0.2), (12.50, 0.2), (13.20, 0.2), (13.50, 0.2),
          (13.80, 0.2), (14.40, 0.2), (14.75, 0.2), (15.10, 0.2), (15.40, 0.2), (15.85, 0.2),
          (16.15, 0.2), (16.40, 0.2), (16.70, 0.2), (16.95, 0.2), (17.35, 0.2), (17.60, 0.2),
          (17.85, 0.2), (18.10, 0.2), (18.35, 0.2), (18.60, 0.2), (18.90, 0.2), (19.15, 0.2),
          (19.45, 0.2), (19.70, 0.2), (19.95, 0.2), (20.30, 0.2), (20.60, 0.2), (20.90, 0.2),
          (21.20, 0.2), (21.50, 0.2), (21.75, 0.2), (22.25, 0.2), (22.60, 0.2), (23.05, 0.2),
          (23.40, 0.2), (23.70, 0.2), (23.85, 0.2)]
od_d98 = [(0.26, 10.1), (0.29, 8.3), (0.31, 7.4), (0.33, 5.9), (0.38, 8.7), (0.58, 7.7), (0.58, 6.3),
          (1.84, 7.1), (1.89, 5.1), (2.06, 5.1), (2.27, 10.9), (2.40, 4.3), (2.97, 8.5),
          (3.02, 12.4), (3.06, 10.8), (3.59, 2.8), (4.38, 23.5), (4.43, 23.3), (4.48, 22.9),
          (4.36, 17.6), (4.33, 16.4), (4.38, 14.8), (4.57, 20.0), (4.60, 18.0), (4.62, 14.8),
          (4.64, 12.8), (4.67, 11.6), (4.72, 4.3), (5.12, 18.4), (5.15, 14.4), (5.19, 15.4),
          (5.25, 15.8), (5.27, 14.1), (5.46, 9.1), (5.48, 6.9), (5.49, 5.7), (5.53, 3.6),
          (5.65, 6.5), (5.80, 3.9), (6.08, 2.0), (22.71, 3.1), (22.83, 5.5), (23.43, 5.1),
          (23.45, 3.9)]
od_err = [(0.27, 0, 12), (0.33, 0, 12), (0.55, 0, 19), (0.60, 0, 14), (1.85, 0, 30), (2.12, 0, 25),
          (3.05, 0, 20), (3.20, 0, 14), (4.32, 0, 100), (4.38, 0, 100), (4.45, 0, 100),
          (4.60, 0, 100), (4.68, 0, 100), (5.15, 0, 24), (5.25, 0, 70), (6.12, 0, 38),
          (6.25, 0, 20), (6.75, 0, 40), (6.85, 0, 60), (6.90, 0, 100), (6.93, 0, 100),
          (6.96, 0, 100), (7.35, 0, 100), (7.45, 0, 100), (7.55, 0, 100), (7.60, 0, 100),
          (8.05, 15, 75), (8.15, 20, 77), (8.30, 5, 30), (8.85, 0, 38), (8.95, 0, 20),
          (9.25, 0, 40), (9.50, 0, 50), (9.60, 0, 50), (9.75, 0, 40), (10.02, 0, 100),
          (10.10, 0, 88), (10.40, 0, 20), (10.68, 0, 100), (10.71, 0, 100), (10.74, 0, 100),
          (10.77, 0, 100), (11.50, 0, 33), (11.58, 0, 30), (12.17, 0, 100), (12.20, 0, 100),
          (12.23, 0, 100), (12.35, 0, 25), (12.45, 0, 18), (13.42, 0, 30), (13.70, 0, 22),
          (14.10, 0, 12), (14.70, 0, 45), (14.80, 0, 27), (15.20, 0, 30), (15.65, 0, 100),
          (15.72, 0, 100), (15.80, 0, 100), (16.05, 0, 53), (16.15, 0, 100), (16.85, 0, 48),
          (16.95, 0, 100), (17.05, 0, 100), (17.12, 0, 100), (17.20, 0, 100), (17.55, 0, 100),
          (17.65, 0, 100), (17.80, 0, 100), (17.90, 0, 90), (18.25, 0, 55), (18.35, 0, 100),
          (18.45, 0, 100), (18.55, 0, 100), (18.85, 0, 30), (19.20, 0, 48), (19.35, 0, 45),
          (19.78, 0, 55), (19.85, 0, 100), (19.92, 0, 100), (20.05, 0, 48), (20.45, 0, 35),
          (20.60, 0, 40), (20.70, 0, 50), (21.55, 0, 100), (22.15, 0, 16), (22.80, 0, 47),
          (22.90, 0, 67), (23.40, 0, 22)]
od_d98_err = [(0.27, 0, 12), (0.31, 0, 12), (0.35, 0, 12), (4.38, 10, 25), (4.45, 10, 25),
              (5.15, 10, 20), (5.25, 5, 18), (22.80, 0, 6), (23.43, 0, 6)]

# ---------------------------------------------------------------- helpers
MS_X, MEW_X = 4.2, 1.8


def cols(pts, i):
    return [p[i] for p in pts]


def style(ax, ylim, yticks, fmt='%g'):
    ax.set_xlim(0, 24)
    ax.set_ylim(*ylim)
    ax.set_xticks(XTICKS)
    ax.set_yticks(yticks)
    ax.yaxis.set_major_formatter(FormatStrFormatter(fmt))
    ax.spines['top'].set_visible(False)
    for s in ('left', 'right'):
        ax.spines[s].set_color(AXBLUE)
        ax.spines[s].set_linewidth(0.5)
    ax.spines['bottom'].set_color(DARK)
    ax.spines['bottom'].set_linewidth(0.5)
    ax.tick_params(axis='y', which='both', direction='in', length=5, width=0.5,
                   colors=AXBLUE, labelsize=7.4, pad=5.5, right=False)
    ax.tick_params(axis='x', which='both', direction='in', length=5, width=0.5,
                   colors=DARK, labelsize=7.4, pad=6.3, top=False)
    ax.set_xlabel(XLABEL, fontsize=8.8, color=DARK, labelpad=4.5)


def draw_flags(ax, intervals, y, color):
    s = [a for a, b in intervals]
    e = [b for a, b in intervals]
    ax.hlines([y] * len(s), s, e, colors=color, lw=1.7, capstyle='round', zorder=2)
    ax.plot(s + e, [y] * (2 * len(s)), 'o', color=color, ms=1.8, mew=0, zorder=2)


def draw_scatter_panel(ax, err, d98_err, d98_pts, dots, xs):
    ax.vlines(cols(err, 0), cols(err, 1), cols(err, 2), colors=BAND_B, lw=1.1, zorder=1)
    ax.vlines(cols(d98_err, 0), cols(d98_err, 1), cols(d98_err, 2), colors=BAND_O, lw=0.9,
              zorder=1.2)
    ax.plot(cols(d98_pts, 0), cols(d98_pts, 1), 'o', color=ORANGE, ms=1.7, mew=0, zorder=2)
    ax.plot(cols(dots, 0), cols(dots, 1), 'o', color=BLUE, ms=1.8, mew=0, zorder=3)
    ax.plot(cols(xs, 0), cols(xs, 1), 'x', color=BLUE, ms=MS_X, mew=MEW_X, zorder=4)


def marker_legend(ax, label1, label2, anchor):
    h = [Line2D([], [], ls='none', marker='x', color=ORANGE, ms=MS_X, mew=MEW_X),
         Line2D([], [], ls='none', marker='x', color=BLUE, ms=MS_X, mew=MEW_X)]
    ax.legend(h, [label1, label2], loc='upper left', bbox_to_anchor=anchor, frameon=False,
              fontsize=7.3, handlelength=3.0, handletextpad=2.2, labelspacing=0.35,
              borderpad=0, borderaxespad=0, labelcolor=[ORANGE, 'black'])


# ---------------------------------------------------------------- figure
fig = plt.figure(figsize=(10, 6000 / 382.5), dpi=382.5)
LEFT, WIDTH, HEIGHT = 0.0978, 0.6873, 0.15115
bottoms = [0.79957, 0.61202, 0.42459, 0.23704, 0.04949]
ax1, ax2, ax3, ax4, ax5 = [fig.add_axes([LEFT, b, WIDTH, HEIGHT]) for b in bottoms]

# ---- panel 1
ZOFF = 0.2
for ints, f in [(d98_flag10, 10), (d98_flag9, 9), (d98_flag6, 6), (d98_flag4, 4), (d98_flag3, 3),
                (d98_flag2, 2), (d98_flag1, 1), (d98_flag0, 0)]:
    draw_flags(ax1, ints, f, ORANGE)
for ints, f in [(zlwp_flag10, 10), (zlwp_flag9, 9), (zlwp_flag8, 8), (zlwp_flag6, 6),
                (zlwp_flag5, 5), (zlwp_flag4, 4), (zlwp_flag1, 1), (zlwp_flag0, 0)]:
    draw_flags(ax1, ints, f + ZOFF, BLUE)
style(ax1, (-0.5, 11.5), [0, 2, 4, 6, 8, 10])
for txt, yy, c in [('DQ Flag', 0.294, AXBLUE), ('D98 &', 0.512, ORANGE), ('Z-LWP', 0.710, BLUE)]:
    ax1.text(-0.0505, yy, txt, color=c, rotation=90, ha='center', va='center',
             fontsize=8.8, transform=ax1.transAxes)

# ---- panel 2
ax2.vlines(cols(mwr_lines, 0), cols(mwr_lines, 1), cols(mwr_lines, 2), colors=MAUVE, lw=0.55,
           zorder=1)
for t, v in zip(lwp_seg_t, lwp_seg_v):
    ax2.plot(t, v, color=ORANGE, lw=2.1, solid_capstyle='round', zorder=2)
for t, v in zip(lwp_seg_t, lwp_seg_v):
    ax2.plot(t, v, color=BLUE, lw=2.1, dashes=(7.5, 3.8), dash_capstyle='butt', zorder=3)
ax2.plot(cols(lwp_x, 0), cols(lwp_x, 1), 'x', color=BLUE, ms=MS_X, mew=MEW_X, zorder=4)
style(ax2, (-0.1, 4.19), [0, 0.5, 1, 1.5, 2, 2.5, 3, 3.5, 4])
ax2.set_ylabel('log10 Liquid Water Path, log10(g/m$^2$)', fontsize=8.8, color=AXBLUE)
ax2.yaxis.set_label_coords(-0.042, 0.5)
h2 = [Line2D([], [], color=MWRRED, lw=1.4),
      Line2D([], [], color=ORANGE, lw=2.1),
      Line2D([], [], color=BLUE, lw=2.1, dashes=(7.5, 3.8))]
ax2.legend(h2, ['MWR Phy Iter', 'D98 LWP', 'Z-LWP LWP'], loc='upper left',
           bbox_to_anchor=(0.0687, 0.918), frameon=False, fontsize=7.3, handlelength=6.0,
           handletextpad=0.6, labelspacing=0.35, borderpad=0, borderaxespad=0)

# ---- panel 3
draw_scatter_panel(ax3, re_err, re_d98_err, re_d98, re_dot, re_x)
style(ax3, (-0.12, 25), [0, 5, 10, 15, 20, 25])
ax3.set_ylabel('Effective Radius,$\\mu$m', fontsize=8.8, color=AXBLUE)
ax3.yaxis.set_label_coords(-0.042, 0.5)
marker_legend(ax3, 'D98 Re (NaN or Empty)', 'Z-LWP', (0.0524, 0.951))

# ---- panel 4
draw_scatter_panel(ax4, nd_err, nd_d98_err, nd_d98, nd_dot, nd_x)
style(ax4, (0, 500), [0, 100, 200, 300, 400, 500])
ax4.set_ylabel('Droplet Concentration, #/cc', fontsize=8.8, color=AXBLUE)
ax4.yaxis.set_label_coords(-0.049, 0.5)
marker_legend(ax4, 'D98 Nd (NaN or Empty)', 'Z-LWP Nd', (0.3857, 0.953))

# ---- panel 5
draw_scatter_panel(ax5, od_err, od_d98_err, od_d98, od_dot, od_x)
style(ax5, (0, 100), [0, 20, 40, 60, 80, 100])
ax5.set_ylabel('Optical Depth', fontsize=8.8, color=AXBLUE)
ax5.yaxis.set_label_coords(-0.049, 0.5)
marker_legend(ax5, 'D98 OD (NaN or Empty)', 'Z-LWP Nd', (0.1332, 0.951))

fig.savefig('out.png', dpi=382.5, facecolor='white')
